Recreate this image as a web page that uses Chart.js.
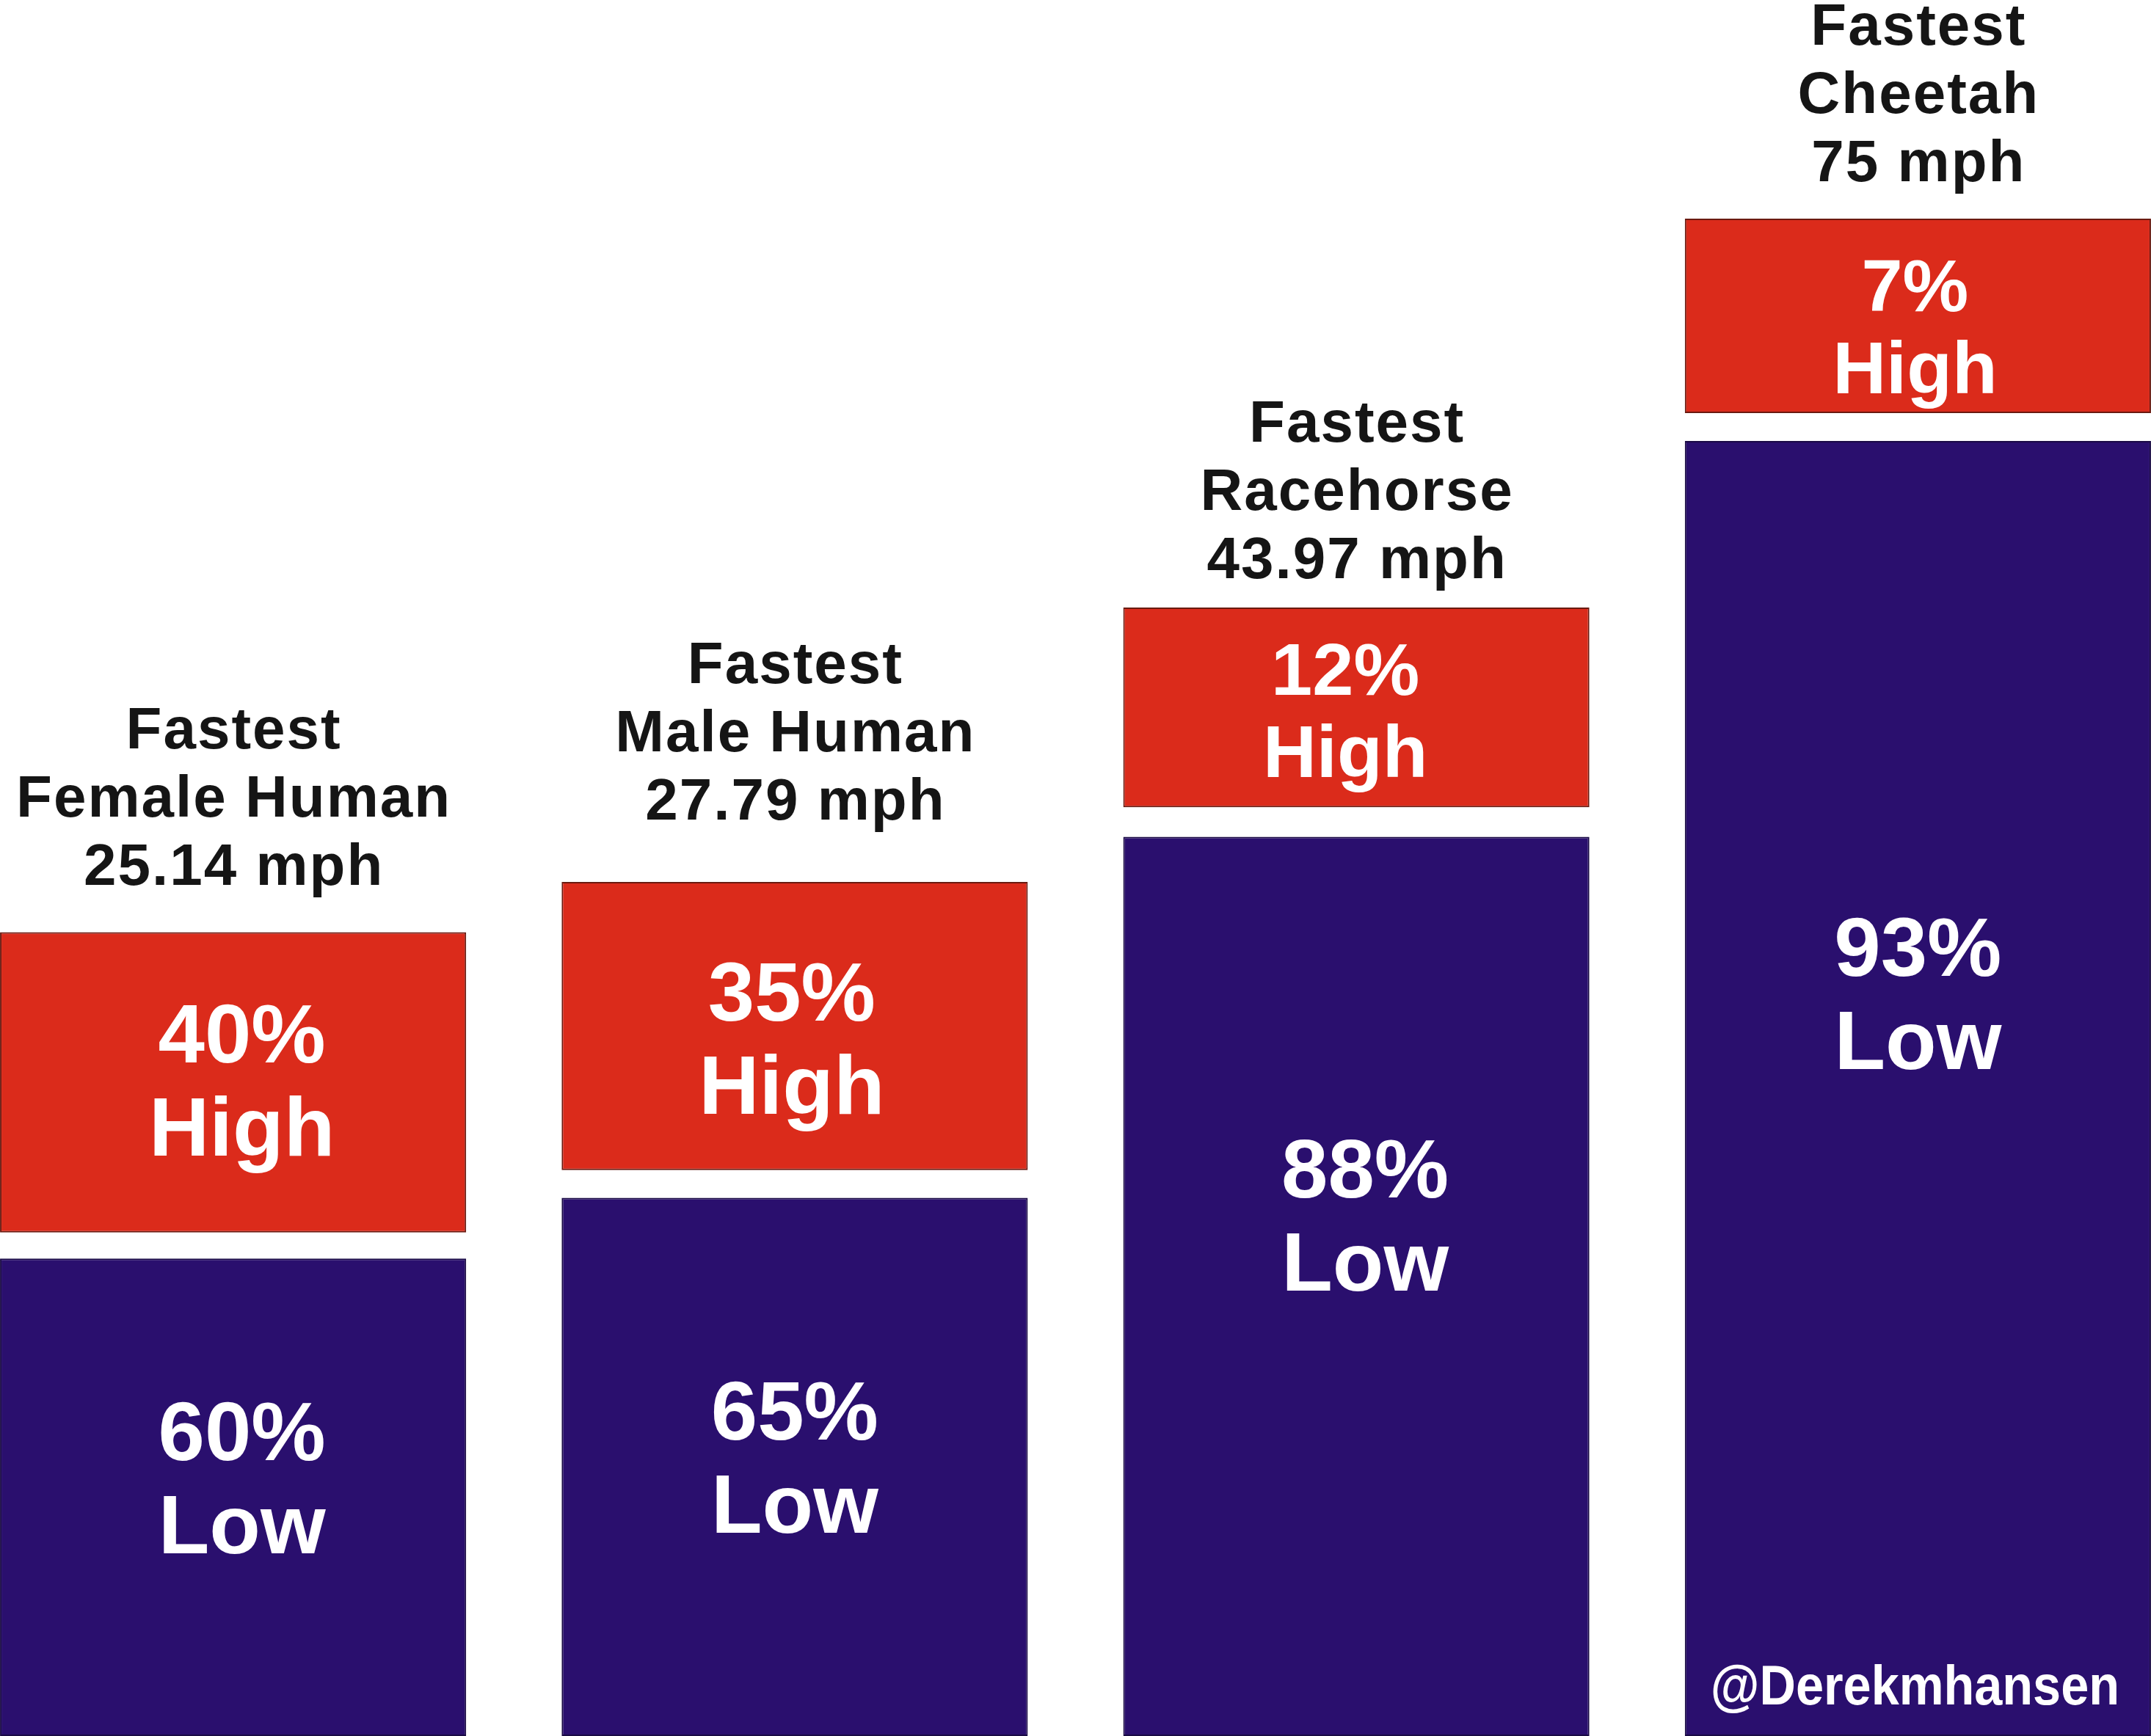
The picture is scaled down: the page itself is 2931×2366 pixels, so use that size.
<!DOCTYPE html>
<html><head><meta charset="utf-8">
<script src="https://cdn.jsdelivr.net/npm/chart.js@4"></script>
<style>
html,body{margin:0;padding:0;background:#fff;overflow:hidden;width:2931px;height:2366px}
#wrap{position:absolute;left:-65px;top:0;width:3061px;height:2366px}
</style></head><body>
<div id="wrap"><canvas id="c"></canvas></div>
<script>
// ---- data (y in % of picture height) ----
const categories = [
  ['Fastest', 'Female Human', '25.14 mph'],
  ['Fastest', 'Male Human', '27.79 mph'],
  ['Fastest', 'Racehorse', '43.97 mph'],
  ['Fastest', 'Cheetah', '75 mph']
];
const lowShareLabels = ['60%', '65%', '88%', '93%'];
const highShareLabels = ['40%', '35%', '12%', '7%'];
const lowSegments = [[0, 27.5], [0, 31.0], [0, 51.8], [0, 74.6]];
const highSegments = [[29.0, 46.3], [32.6, 49.2], [53.5, 65.0], [76.2, 87.4]];
const watermark = '@Derekmhansen';

const FAMILY = '"Liberation Sans", Arial, sans-serif';

const labelPlugin = {
  id: 'speedLabels',
  afterDatasetsDraw(chart, args, o) {
    const ctx = chart.ctx;
    const lowMeta = chart.getDatasetMeta(0), highMeta = chart.getDatasetMeta(1);
    ctx.save();
    ctx.textAlign = 'center';
    ctx.textBaseline = 'alphabetic';
    categories.forEach((lines, i) => {
      const hi = highMeta.data[i], lo = lowMeta.data[i];
      // titles above the bar
      ctx.fillStyle = o.titleColor;
      ctx.font = 'bold ' + o.titleSize + 'px ' + FAMILY;
      ctx.letterSpacing = o.titleTracking + 'px';
      const lastCap = hi.y - o.titleGap[i];
      lines.forEach((t, k) => {
        const capC = lastCap - (lines.length - 1 - k) * o.titleLine;
        ctx.fillText(t, hi.x + o.titleTracking / 2, capC + 0.358 * o.titleSize);
      });
      // inner labels
      ctx.letterSpacing = '0px';
      ctx.fillStyle = '#ffffff';
      const pair = (el, frac, size, dx, a, b) => {
        ctx.font = 'bold ' + size + 'px ' + FAMILY;
        const line = size * o.innerLineRatio;
        const top = Math.min(el.y, el.base), bot = Math.max(el.y, el.base);
        const c = top + (bot - top) * frac;
        ctx.fillText(a, el.x + dx, c - line / 2 + 0.358 * size);
        ctx.fillText(b, el.x + dx, c + line / 2 + 0.358 * size);
      };
      pair(hi, o.highFrac[i], o.highSize[i], o.highDx[i], highShareLabels[i], 'High');
      pair(lo, o.lowFrac[i], o.lowSize[i], o.lowDx[i], lowShareLabels[i], 'Low');
    });
    // watermark in the last bar
    const last = lowMeta.data[lowMeta.data.length - 1];
    ctx.font = 'bold ' + o.wmSize + 'px ' + FAMILY;
    ctx.textAlign = 'right';
    ctx.translate(last.x + last.width / 2 - o.wmRight, last.base - o.wmBottom);
    ctx.scale(o.wmScaleX, 1);
    ctx.fillText(watermark, 0, 0);
    ctx.restore();
  }
};

new Chart(document.getElementById('c'), {
  type: 'bar',
  data: {
    labels: categories.map(c => c.join(' ')),
    datasets: [
      {
        label: 'Low',
        data: lowSegments,
        backgroundColor: '#2A0F6E',
        borderColor: '#1a0a45',
        borderWidth: 2,
        borderSkipped: false,
        grouped: false,
        categoryPercentage: 1,
        barPercentage: 0.83
      },
      {
        label: 'High',
        data: highSegments,
        backgroundColor: '#DB2B1B',
        borderColor: '#6a1a10',
        borderWidth: 2,
        borderSkipped: false,
        grouped: false,
        categoryPercentage: 1,
        barPercentage: 0.83
      }
    ]
  },
  options: {
    responsive: true,
    maintainAspectRatio: false,
    animation: false,
    layout: { padding: 0 },
    scales: {
      x: { display: false, offset: true, grid: { display: false } },
      y: { display: false, min: 0, max: 100, grid: { display: false } }
    },
    plugins: {
      legend: { display: false },
      tooltip: { enabled: false },
      speedLabels: {
        titleColor: '#151515',
        titleSize: 80,
        titleTracking: 2,
        titleLine: 93,
        titleGap: [93, 114, 69, 80],
        innerLineRatio: 1.114,
        highSize: [114, 114, 101, 101],
        lowSize: [114, 114, 114, 114],
        highDx: [12, -4, -15, -4],
        lowDx: [12, 0, 12, 0],
        highFrac: [0.49, 0.54, 0.51, 0.55],
        lowFrac: [0.457, 0.48, 0.42, 0.426],
        wmSize: 76,
        wmScaleX: 0.9,
        wmRight: 43,
        wmBottom: 43
      }
    }
  },
  plugins: [labelPlugin]
});
</script>
</body></html>
